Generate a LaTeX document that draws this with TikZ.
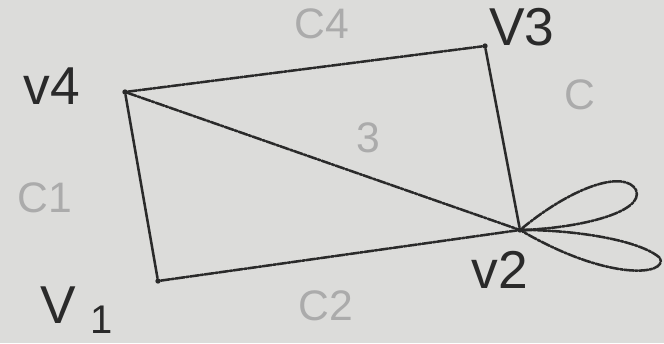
\documentclass[tikz,border=0pt]{standalone}
\usepackage{fontspec}
\setmainfont{Liberation Sans}
\definecolor{paper}{HTML}{DCDCDA}
\definecolor{pencil}{HTML}{2A2A2A}
\definecolor{faint}{HTML}{ABABAB}
\tikzset{
  vtx/.style={circle,fill=pencil,inner sep=0pt,minimum size=4pt},
  edge/.style={draw=pencil,line width=1.9pt,line cap=round},
  rough/.style={edge,dash pattern=on 7pt off 1pt on 2pt off 1pt},
  lbl/.style={text=pencil,font=\fontsize{40}{44}\selectfont},
  ghost/.style={text=faint,font=\fontsize{32}{36}\selectfont}
}
\begin{document}
\begin{tikzpicture}[x=0.75pt,y=-0.75pt]
\fill[paper] (0,0) rectangle (664,343);
\useasboundingbox (0,0) rectangle (664,343);
% vertices
\node[vtx] (v4) at (125,92) {};
\node[vtx] (v3) at (485,46) {};
\node[vtx] (v2) at (520,230) {};
\node[vtx] (v1) at (158,281) {};
% edges
\draw[rough] (v4) -- (v3);
\draw[edge] (v3) -- (v2);
\draw[edge] (v4) -- (v1);
\draw[rough] (v4) -- (v2);
\draw[rough] (v1) -- (v2);
% loops
\draw[rough] (v2) .. controls (575,185) and (625,170) .. (636,190)
                  .. controls (645,212) and (580,228) .. (v2);
\draw[rough] (v2) .. controls (575,230) and (640,240) .. (660,258)
                  .. controls (668,275) and (610,282) .. (v2);
% vertex labels
\node[lbl] (l4) at (52,86) {v4};
\node[lbl] (l3) at (522,27) {V3};
\node[lbl] (l2) at (500,270) {v2};
\node[lbl] (l1) at (58,305) {V};
\node[lbl,font=\fontsize{30}{34}\selectfont] (l1s) at (102,320) {1};
% faint labels
\node[ghost] (c4) at (322,24) {C4};
\node[ghost] (c3) at (368,138) {3};
\node[ghost] (c5) at (580,95) {C};
\node[ghost] (c1) at (45,198) {C1};
\node[ghost] (c2) at (326,306) {C2};
\end{tikzpicture}
\end{document}
